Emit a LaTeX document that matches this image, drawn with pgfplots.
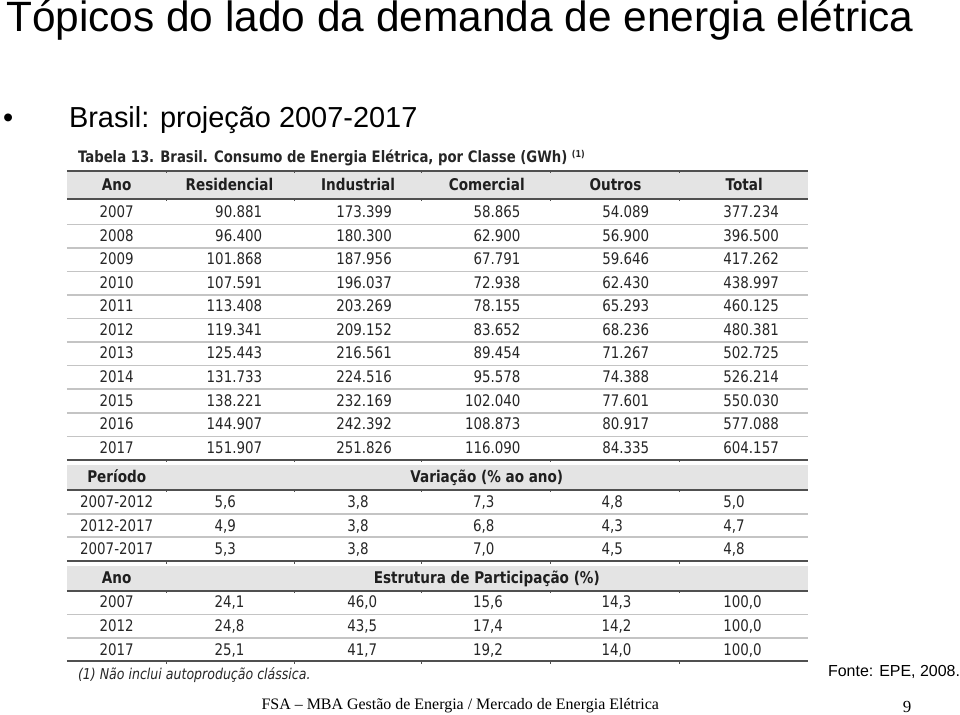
\documentclass[border=0pt]{standalone}
\usepackage{pgfplots}
\usepackage{pgfplotstable}
\pgfplotsset{compat=1.18}
\usepackage{fontspec}
\setmainfont{Liberation Sans}
\newfontfamily\tabfont{DejaVu Sans}[FakeStretch=0.84]
\newfontfamily\timesfont{Liberation Serif}
\definecolor{hdr}{HTML}{E4E4E4}
\definecolor{dark}{HTML}{505050}
\definecolor{sep}{HTML}{C4C4C4}
\definecolor{txt}{HTML}{262626}

\pgfplotstableread{
y ano res ind com out tot
218.0 2007 90.881 173.399 58.865 54.089 377.234
241.65 2008 96.400 180.300 62.900 56.900 396.500
265.3 2009 101.868 187.956 67.791 59.646 417.262
288.95 2010 107.591 196.037 72.938 62.430 438.997
312.6 2011 113.408 203.269 78.155 65.293 460.125
336.25 2012 119.341 209.152 83.652 68.236 480.381
359.9 2013 125.443 216.561 89.454 71.267 502.725
383.55 2014 131.733 224.516 95.578 74.388 526.214
407.2 2015 138.221 232.169 102.040 77.601 550.030
430.85 2016 144.907 242.392 108.873 80.917 577.088
454.5 2017 151.907 251.826 116.090 84.335 604.157
}\consumo

\pgfplotstableread{
y per res ind com out tot
508.5 2007-2012 5,6 3,8 7,3 4,8 5,0
532.5 2012-2017 4,9 3,8 6,8 4,3 4,7
556.0 2007-2017 5,3 3,8 7,0 4,5 4,8
}\variacao

\pgfplotstableread{
y ano res ind com out tot
609.5 2007 24,1 46,0 15,6 14,3 100,0
633.5 2012 24,8 43,5 17,4 14,2 100,0
657.5 2017 25,1 41,7 19,2 14,0 100,0
}\estrutura

\tikzset{cell/.style={font=\tabfont\fontsize{16}{16}\selectfont, text=txt, inner sep=0pt},
  head/.style={inner sep=0pt, anchor=base, font=\tabfont\bfseries\fontsize{16.2}{16.2}\selectfont, text=black!88}}
\pgfplotsset{
  celltext/.style={only marks, mark=none, nodes near coords, point meta=explicit symbolic},
  right cell/.style={celltext, nodes near coords style={cell, anchor=base east}},
  left cell/.style={celltext, nodes near coords style={cell, anchor=base west}},
  mid cell/.style={celltext, nodes near coords style={cell, anchor=base}},
}

\begin{document}
\begin{tikzpicture}
\begin{axis}[width=960pt, height=716pt, scale only axis,
  xmin=0, xmax=960, ymin=0, ymax=716, y dir=reverse,
  hide axis, clip=false]
\path (axis cs:0,0) rectangle (axis cs:960,716);

% header fills
\fill[hdr] (axis cs:67,171) rectangle (axis cs:810,199);
\fill[hdr] (axis cs:67,466) rectangle (axis cs:810,491);
\fill[hdr] (axis cs:67,567) rectangle (axis cs:810,592);

% light separators
\pgfplotsinvokeforeach{225,248.6,272.2,295.8,319.4,343,366.6,390.2,413.8,437.4,515,538.5,616,639.5}{
  \draw[sep, line width=1.6pt] (axis cs:67,#1) -- (axis cs:810,#1);
}
% dark lines and small column ticks
\pgfplotsinvokeforeach{171,199,461,491,562.5,592,663}{
  \draw[dark, line width=2pt] (axis cs:67,#1) -- (axis cs:810,#1);
  \draw[dark, line width=1pt] (axis cs:167,#1) -- (axis cs:167,#1+2.5);
  \draw[dark, line width=1pt] (axis cs:295,#1) -- (axis cs:295,#1+2.5);
  \draw[dark, line width=1pt] (axis cs:423,#1) -- (axis cs:423,#1+2.5);
  \draw[dark, line width=1pt] (axis cs:552,#1) -- (axis cs:552,#1+2.5);
  \draw[dark, line width=1pt] (axis cs:681,#1) -- (axis cs:681,#1+2.5);
}

% title and subtitle
\node[anchor=base west, inner sep=0pt, font=\fontsize{42.5}{42.5}\selectfont] at (axis cs:6,32) {Tópicos do lado da demanda de energia elétrica};
\node[anchor=base west, inner sep=0pt, font=\fontsize{29}{29}\selectfont] at (axis cs:3,128) {•};
\node[anchor=base west, inner sep=0pt, font=\fontsize{29}{29}\selectfont] at (axis cs:69,128) {Brasil: projeção 2007-2017};

% table caption
\node[anchor=base west, inner sep=0pt, font=\tabfont\bfseries\fontsize{15.8}{15.8}\selectfont, text=txt] at (axis cs:78,163) {Tabela 13. Brasil. Consumo de Energia Elétrica, por Classe (GWh) \raisebox{5pt}{\fontsize{9.5}{9.5}\selectfont(1)}};

% headers
\node[head] at (axis cs:117,190.5) {Ano};
\node[head] at (axis cs:230,190.5) {Residencial};
\node[head] at (axis cs:359,190.5) {Industrial};
\node[head] at (axis cs:488,190.5) {Comercial};
\node[head] at (axis cs:617,190.5) {Outros};
\node[head] at (axis cs:746,190.5) {Total};
\node[head] at (axis cs:117,484) {Período};
\node[head] at (axis cs:488,484) {Variação (\% ao ano)};
\node[head] at (axis cs:117,585) {Ano};
\node[head] at (axis cs:488,585) {Estrutura de Participação (\%)};

% consumption values
\addplot[mid cell] table[x expr=117, y=y, meta=ano] {\consumo};
\addplot[right cell] table[x expr=263, y=y, meta=res] {\consumo};
\addplot[right cell] table[x expr=393, y=y, meta=ind] {\consumo};
\addplot[right cell] table[x expr=522, y=y, meta=com] {\consumo};
\addplot[right cell] table[x expr=651, y=y, meta=out] {\consumo};
\addplot[right cell] table[x expr=781, y=y, meta=tot] {\consumo};

% variation
\addplot[mid cell] table[x expr=117, y=y, meta=per] {\variacao};
\addplot[left cell] table[x expr=215, y=y, meta=res] {\variacao};
\addplot[left cell] table[x expr=348, y=y, meta=ind] {\variacao};
\addplot[left cell] table[x expr=474, y=y, meta=com] {\variacao};
\addplot[left cell] table[x expr=603, y=y, meta=out] {\variacao};
\addplot[left cell] table[x expr=725, y=y, meta=tot] {\variacao};

% structure
\addplot[mid cell] table[x expr=117, y=y, meta=ano] {\estrutura};
\addplot[left cell] table[x expr=215, y=y, meta=res] {\estrutura};
\addplot[left cell] table[x expr=348, y=y, meta=ind] {\estrutura};
\addplot[left cell] table[x expr=474, y=y, meta=com] {\estrutura};
\addplot[left cell] table[x expr=603, y=y, meta=out] {\estrutura};
\addplot[left cell] table[x expr=725, y=y, meta=tot] {\estrutura};

% footnote and source
\node[anchor=base west, inner sep=0pt, font=\tabfont\itshape\fontsize{15}{15}\selectfont, text=txt] at (axis cs:78,681) {(1) Não inclui autoprodução clássica.};
\node[anchor=base west, inner sep=0pt, font=\fontsize{16}{16}\selectfont] at (axis cs:830,678) {Fonte: EPE, 2008.};
\node[anchor=base west, inner sep=0pt, font=\timesfont\fontsize{16}{16}\selectfont] at (axis cs:262,711) {FSA – MBA Gestão de Energia / Mercado de Energia Elétrica};
\node[anchor=base west, inner sep=0pt, font=\timesfont\fontsize{17}{17}\selectfont] at (axis cs:905,714) {9};
\end{axis}
\end{tikzpicture}
\end{document}
